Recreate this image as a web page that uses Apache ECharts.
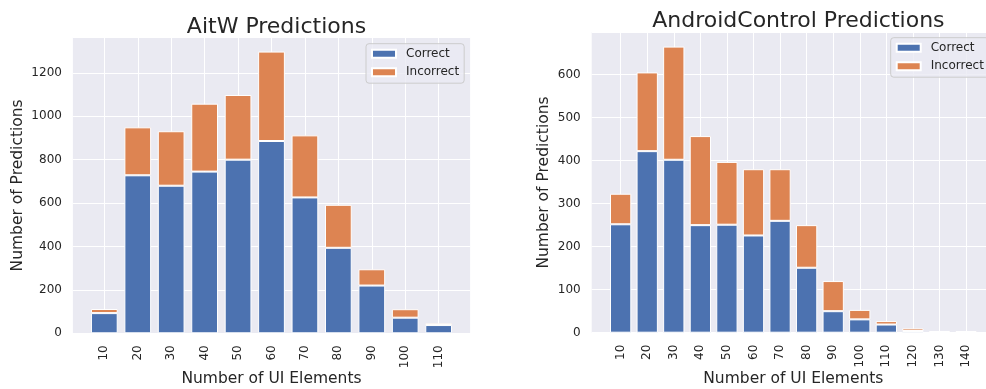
<!DOCTYPE html>
<html>
<head>
<meta charset="utf-8">
<script src="https://cdn.jsdelivr.net/npm/echarts@6/dist/echarts.min.js"></script>
<style>
  html, body { margin: 0; padding: 0; background: #ffffff; }
  #chart { width: 986px; height: 389px; }
</style>
</head>
<body>
<div id="chart"></div>
<script>
// Bins: number of UI elements on screen
const aitwBins = [10, 20, 30, 40, 50, 60, 70, 80, 90, 100, 110];
const aitwCorrect = [93, 728, 680, 745, 800, 886, 626, 394, 220, 72, 38];
const aitwIncorrect = [19, 221, 251, 313, 298, 412, 286, 198, 75, 39, 8];

const acBins = [10, 20, 30, 40, 50, 60, 70, 80, 90, 100, 110, 120, 130, 140];
const acCorrect = [252, 422, 402, 250, 251, 226, 260, 151, 50, 31, 19, 4, 1, 1];
const acIncorrect = [71, 183, 263, 207, 146, 154, 120, 99, 70, 22, 8, 6, 3, 3];

const aitwYTicks = [0, 200, 400, 600, 800, 1000, 1200];
const acYTicks = [0, 100, 200, 300, 400, 500, 600];

const FONT = 'DejaVu Sans';
const TEXT = '#262626';
const BLUE = '#4C72B0';
const ORANGE = '#DD8452';
const PANEL = '#EAEAF2';

// Rows are [count, bin] so the count column is the one that gets stacked.
function rows(xs, ys) { return xs.map((x, i) => [ys[i], x]); }
function stackTop(a, b) { return Math.max(...a.map((v, i) => v + b[i])); }

function xAxisFor(gridIndex, bins, min, max) {
  return {
    type: 'value', gridIndex, min, max,
    name: 'Number of UI Elements', nameLocation: 'middle', nameGap: 38,
    nameMoveOverlap: false,
    nameTextStyle: { fontFamily: FONT, fontSize: 15.5, color: TEXT },
    axisLine: { show: false }, axisTick: { show: false, customValues: bins },
    axisLabel: { customValues: bins, rotate: 90, margin: 12, fontFamily: FONT, fontSize: 12, color: TEXT },
    splitLine: { show: true, lineStyle: { color: '#ffffff', width: 1 } }
  };
}

function yAxisFor(gridIndex, ticks, max, gap) {
  return {
    type: 'value', gridIndex, min: 0, max, interval: ticks[1] - ticks[0],
    name: 'Number of Predictions', nameLocation: 'middle', nameGap: gap,
    nameMoveOverlap: false,
    nameTextStyle: { fontFamily: FONT, fontSize: 15.5, color: TEXT },
    axisLine: { show: false }, axisTick: { show: false },
    axisLabel: { margin: 11, fontFamily: FONT, fontSize: 12, color: TEXT, showMaxLabel: false,
                 formatter: v => String(v) },
    splitLine: { show: true, lineStyle: { color: '#ffffff', width: 1 } }
  };
}

function barSeries(name, color, idx, bins, vals, width, stack) {
  return {
    type: 'bar', name, stack, xAxisIndex: idx, yAxisIndex: idx,
    barWidth: width, data: rows(bins, vals),
    encode: { x: 1, y: 0 },
    itemStyle: { color, borderColor: '#ffffff', borderWidth: 1 },
    emphasis: { disabled: true }
  };
}

function legendAt(left, top) {
  return {
    orient: 'vertical', left, top,
    data: ['Correct', 'Incorrect'],
    itemWidth: 24, itemHeight: 8, itemGap: 6.5,
    padding: [4, 5, 5, 5],
    backgroundColor: 'rgba(234,234,242,0.8)',
    borderColor: '#cccccc', borderWidth: 1, borderRadius: 3,
    icon: 'rect',
    textStyle: { fontFamily: FONT, fontSize: 12, color: TEXT, lineHeight: 12, padding: [0, 0, 0, 5] }
  };
}

const aitwMax = stackTop(aitwCorrect, aitwIncorrect) * 1.05;
const acMax = stackTop(acCorrect, acIncorrect) * 1.05;

const chart = echarts.init(document.getElementById('chart'), null, { renderer: 'canvas' });
chart.setOption({
  animation: false,
  backgroundColor: '#ffffff',
  textStyle: { fontFamily: FONT },
  title: [
    { text: 'AitW Predictions', left: 271.5, top: 11, textAlign: 'center',
      textStyle: { fontFamily: FONT, fontSize: 22, fontWeight: 'normal', color: TEXT } },
    { text: 'AndroidControl Predictions', left: 793.4, top: 5, textAlign: 'center',
      textStyle: { fontFamily: FONT, fontSize: 22, fontWeight: 'normal', color: TEXT } }
  ],
  legend: [legendAt(366, 43.7), legendAt(890.7, 37.7)],
  grid: [
    { left: 72.9, top: 37.5, width: 397.2, height: 295.8, show: true, backgroundColor: PANEL, borderWidth: 0, outerBoundsMode: 'none' },
    { left: 591.7, top: 32.3, width: 403.3, height: 300.4, show: true, backgroundColor: PANEL, borderWidth: 0, outerBoundsMode: 'none' }
  ],
  xAxis: [
    xAxisFor(0, aitwBins, 0.6, 119.4),
    xAxisFor(1, acBins, -0.9, 150.9)
  ],
  yAxis: [
    yAxisFor(0, aitwYTicks, aitwMax, 47),
    yAxisFor(1, acYTicks, acMax, 39.5)
  ],
  series: [
    barSeries('Correct', BLUE, 0, aitwBins, aitwCorrect, 26.75, 'aitw'),
    barSeries('Incorrect', ORANGE, 0, aitwBins, aitwIncorrect, 26.75, 'aitw'),
    barSeries('Correct', BLUE, 1, acBins, acCorrect, 21.3, 'ac'),
    barSeries('Incorrect', ORANGE, 1, acBins, acIncorrect, 21.3, 'ac')
  ]
});
</script>
</body>
</html>
